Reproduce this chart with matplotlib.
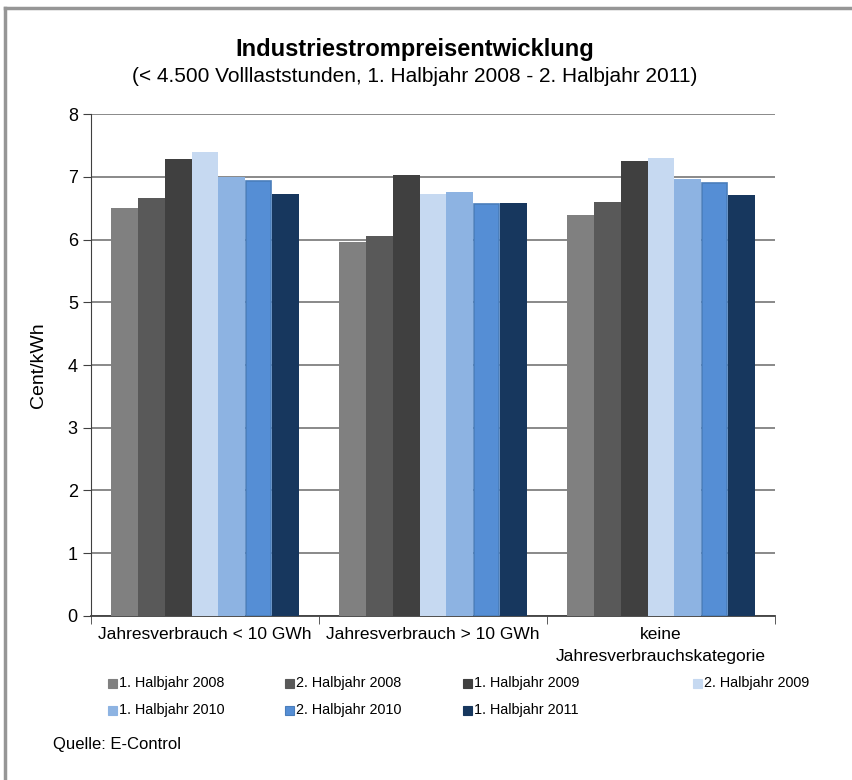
import numpy as np
import matplotlib.pyplot as plt
from matplotlib.patches import Rectangle
from matplotlib.lines import Line2D

plt.rcParams['font.family'] = ['Liberation Sans', 'DejaVu Sans']

# Categories and series
categories = ["Jahresverbrauch < 10 GWh", "Jahresverbrauch > 10 GWh",
              "keine\nJahresverbrauchskategorie"]
series = ["1. Halbjahr 2008", "2. Halbjahr 2008", "1. Halbjahr 2009",
          "2. Halbjahr 2009", "1. Halbjahr 2010", "2. Halbjahr 2010",
          "1. Halbjahr 2011"]

# Prices in Cent/kWh, one list per half-year
hj1_2008 = [6.50, 5.96, 6.39]
hj2_2008 = [6.66, 6.05, 6.60]
hj1_2009 = [7.28, 7.03, 7.25]
hj2_2009 = [7.39, 6.72, 7.30]
hj1_2010 = [6.99, 6.75, 6.96]
hj2_2010 = [6.94, 6.57, 6.90]
hj1_2011 = [6.72, 6.59, 6.71]
values = [hj1_2008, hj2_2008, hj1_2009, hj2_2009, hj1_2010, hj2_2010, hj1_2011]

colors = ["#808080", "#595959", "#404040", "#c6d9f1", "#8db3e2", "#558ed5", "#17375e"]
edges = [None, None, None, None, None, "#4a7ebb", None]

fig = plt.figure(figsize=(8.53, 7.80), dpi=100)
ax = fig.add_axes([0.1067, 0.2103, 0.8019, 0.6435])

x = np.arange(len(categories))
width = 0.118
for i, (vals, c, ec) in enumerate(zip(values, colors, edges)):
    offset = (i - 3) * width
    if ec:
        ax.bar(x + offset, vals, width * 0.93, color=c, edgecolor=ec, linewidth=1.2, zorder=3)
    else:
        ax.bar(x + offset, vals, width, color=c, linewidth=0, zorder=3)

ax.set_xlim(-0.5, 2.5)
ax.set_ylim(0, 8)
ax.set_yticks(range(0, 9))
ax.yaxis.grid(True, color="#6a6a6a", linewidth=1.1, zorder=0)
ax.set_axisbelow(True)

ax.set_xticks(x)
ax.set_xticklabels(categories, fontsize=12.5, va="top", linespacing=1.6)
ax.tick_params(axis="x", which="major", length=0, pad=8)
ax.set_xticks([-0.5, 0.5, 1.5, 2.5], minor=True)
ax.tick_params(axis="x", which="minor", length=6, color="#404040", direction="out")
ax.tick_params(axis="y", labelsize=13, length=6, color="#404040", direction="out")

for s in ["top", "right"]:
    ax.spines[s].set_visible(False)
ax.spines["left"].set_color("#404040")
ax.spines["bottom"].set_color("#404040")
ax.spines["bottom"].set_linewidth(1.3)

ax.set_ylabel("Cent/kWh", fontsize=14, labelpad=15)

fig.text(0.486, 0.937, "Industriestrompreisentwicklung", ha="center", va="center",
         fontsize=17, fontweight="bold")
fig.text(0.486, 0.902, "(< 4.500 Volllaststunden, 1. Halbjahr 2008 - 2. Halbjahr 2011)",
         ha="center", va="center", fontsize=15)

# Legend drawn as a grid of swatches below the axes
legend_x = [108, 285, 463, 693]
legend_y = [683, 710]
for i, (name, c) in enumerate(zip(series, colors)):
    px = legend_x[i % 4]
    py = legend_y[i // 4]
    fig.patches.append(Rectangle((px / 853, 1 - (py + 4.5) / 780), 9 / 853, 9 / 780,
                                 transform=fig.transFigure, facecolor=c,
                                 edgecolor=edges[i] or c, linewidth=0.8))
    fig.text((px + 11) / 853, 1 - py / 780, name, ha="left", va="center", fontsize=10.4)

fig.text(53 / 853, 1 - 744 / 780, "Quelle: E-Control", ha="left", va="center", fontsize=12)

# Frame lines at the top and left edge
fig.add_artist(Line2D([5 / 853, 1], [1 - 8 / 780, 1 - 8 / 780], transform=fig.transFigure,
                      color="#969696", linewidth=2.5))
fig.add_artist(Line2D([5.5 / 853, 5.5 / 853], [0, 1 - 8 / 780], transform=fig.transFigure,
                      color="#969696", linewidth=2.5))

fig.savefig("out.png", dpi=100)
